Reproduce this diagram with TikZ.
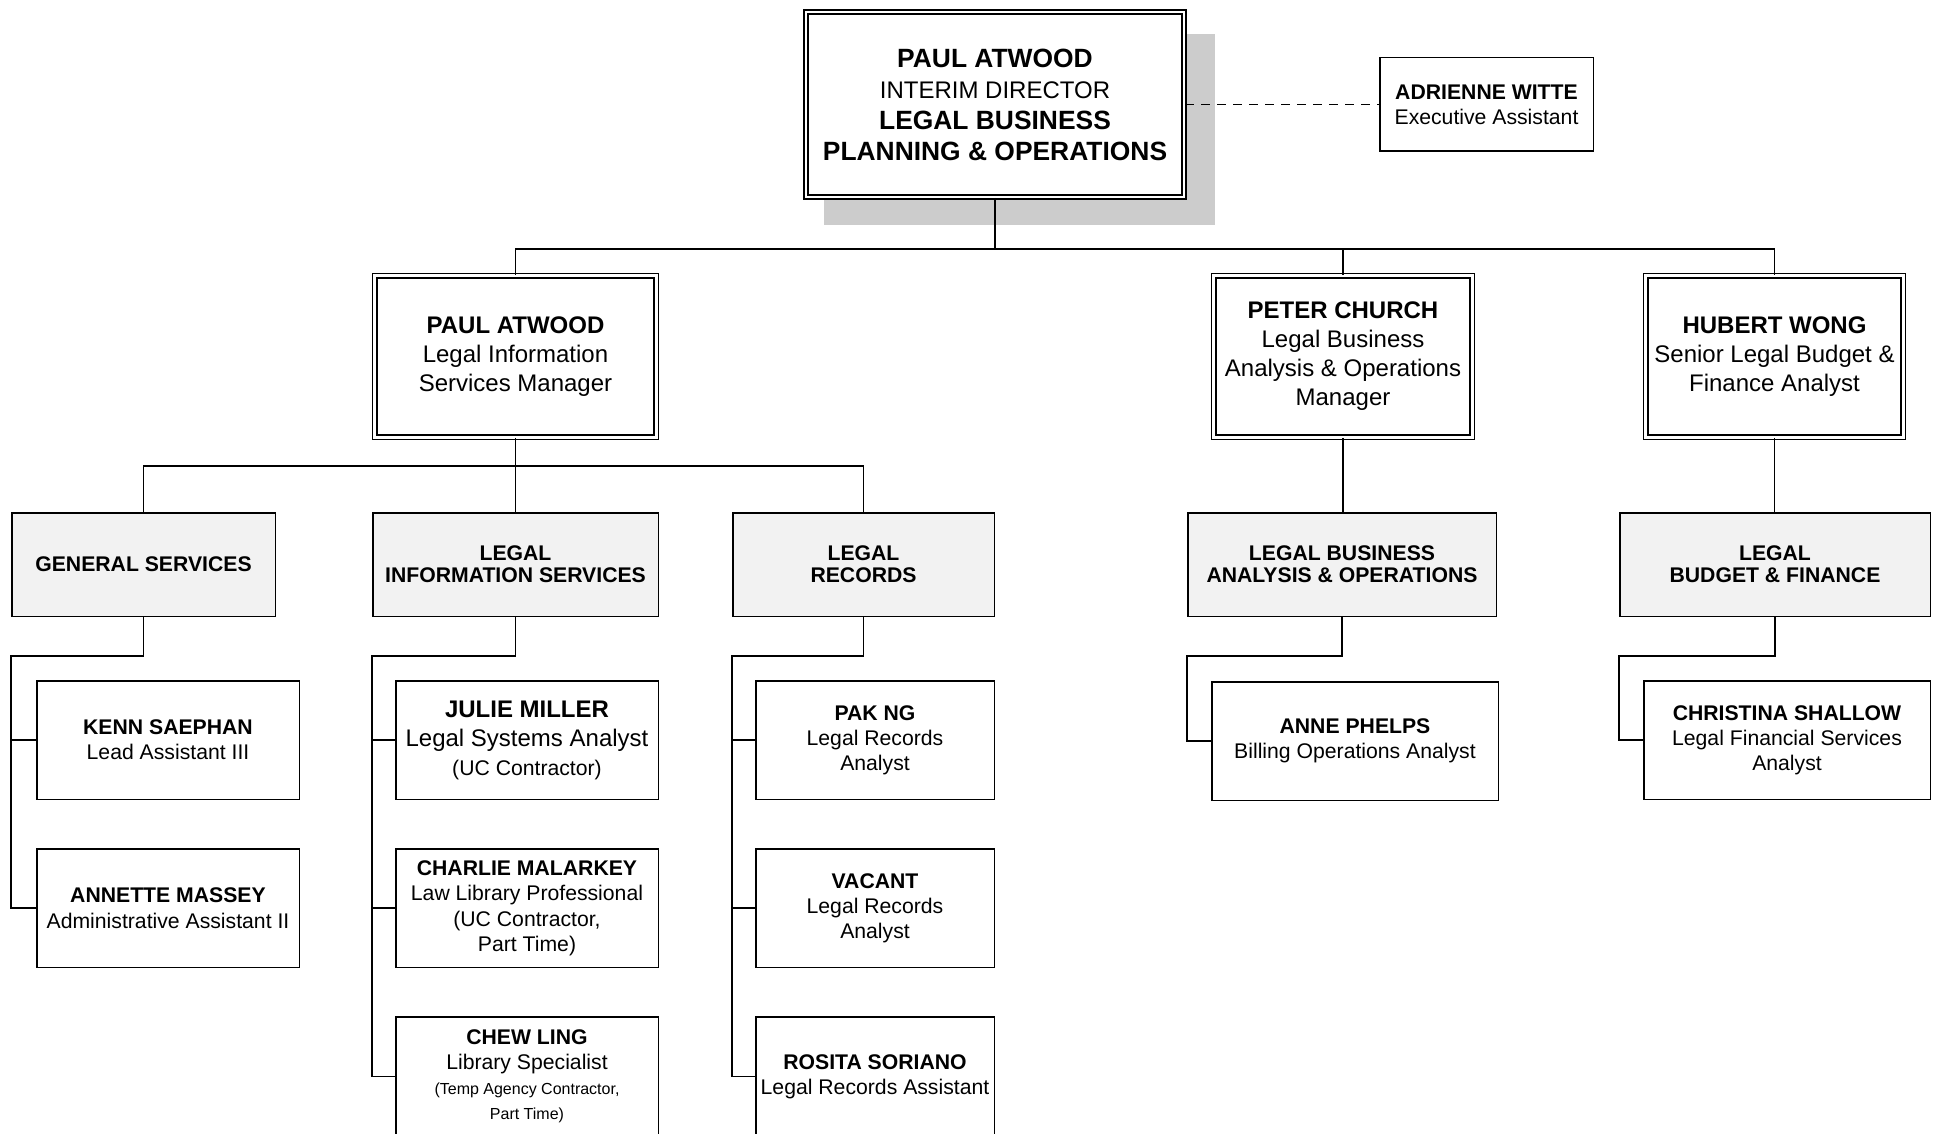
\documentclass[tikz,border=0pt]{standalone}
\usepackage{fontspec}
\setmainfont{Liberation Sans}
\usetikzlibrary{positioning,shadows}

\tikzset{
	boss/.style={rectangle,draw,fill=white,line width=1.2pt,double,double distance=0.8pt,align=center,inner sep=2pt,minimum width=188.8pt,minimum height=92.3pt,font=\fontsize{12}{15.5}\selectfont,drop shadow={shadow xshift=12pt,shadow yshift=-12pt,shadow scale=1.035,fill=black!20,opacity=1}},
	mgr/.style={rectangle,draw,line width=0.75pt,double,double distance=1.5pt,align=center,inner sep=2pt,minimum height=80.6pt,font=\fontsize{12}{14.5}\selectfont},
	unit/.style={rectangle,draw,line width=0.8pt,fill=black!5,align=center,inner sep=2pt,minimum height=51.8pt,font=\fontsize{10.6}{10.8}\selectfont\bfseries},
	staff/.style={rectangle,draw,line width=0.8pt,align=center,inner sep=2pt,minimum height=59.3pt,font=\fontsize{10.6}{12.6}\selectfont},
	link/.style={line width=0.75pt}
}

\begin{document}
\begin{tikzpicture}[x=0.5pt,y=-0.5pt]
	\useasboundingbox (0,0) rectangle (1938,1134);

	% director and assistant
	\node[boss] (dir) at (995,104.5) {{\fontsize{13.2}{15.5}\selectfont\bfseries PAUL ATWOOD}\\INTERIM DIRECTOR\\{\fontsize{13.2}{15.5}\selectfont\bfseries LEGAL BUSINESS}\\{\fontsize{13.2}{15.5}\selectfont\bfseries PLANNING \& OPERATIONS}};
	\node[staff,minimum width=106.8pt,minimum height=46.8pt] (exec) at (1486.5,104.5) {\textbf{ADRIENNE WITTE}\\Executive Assistant};

	% managers
	\node[mgr,minimum width=140.6pt] (lismgr) at (515.5,356.5) {\textbf{PAUL ATWOOD}\\Legal Information\\Services Manager};
	\node[mgr,minimum width=129.1pt] (peter) at (1343,356.5) {\textbf{PETER CHURCH}\\Legal Business\\Analysis \& Operations\\Manager};
	\node[mgr,minimum width=128.6pt] (hubert) at (1774.5,356.5) {\textbf{HUBERT WONG}\\Senior Legal Budget \&\\Finance Analyst};

	% units
	\node[unit,minimum width=131.8pt] (gen) at (143.5,564.5) {GENERAL SERVICES};
	\node[unit,minimum width=142.8pt] (lisdept) at (515.5,564.5) {LEGAL\\INFORMATION SERVICES};
	\node[unit,minimum width=130.8pt] (recs) at (863.5,564.5) {LEGAL\\RECORDS};
	\node[unit,minimum width=154.3pt] (lbao) at (1342,564.5) {LEGAL BUSINESS\\ANALYSIS \& OPERATIONS};
	\node[unit,minimum width=155.3pt] (lbf) at (1775,564.5) {LEGAL\\BUDGET \& FINANCE};

	% staff
	\node[staff,minimum width=131.3pt] (kenn) at (168,740) {\textbf{KENN SAEPHAN}\\Lead Assistant III};
	\node[staff,minimum width=131.3pt,below=24pt of kenn] (annette) {\textbf{ANNETTE MASSEY}\\Administrative Assistant II};

	\node[staff,minimum width=131.3pt,font=\fontsize{12}{14.5}\selectfont] (julie) at (527,740) {\textbf{JULIE MILLER}\\Legal Systems Analyst\\{\fontsize{10.6}{14.5}\selectfont(UC Contractor)}};
	\node[staff,minimum width=131.3pt,below=24pt of julie] (charlie) {\textbf{CHARLIE MALARKEY}\\Law Library Professional\\(UC Contractor,\\Part Time)};
	\node[staff,minimum width=131.3pt,below=24pt of charlie] (chew) {\textbf{CHEW LING}\\Library Specialist\\{\fontsize{8}{11.7}\selectfont(Temp Agency Contractor,}\\{\fontsize{8}{11.7}\selectfont Part Time)}};

	\node[staff,minimum width=119.3pt] (pak) at (875,740) {\textbf{PAK NG}\\Legal Records\\Analyst};
	\node[staff,minimum width=119.3pt,below=24pt of pak] (vacant) {\textbf{VACANT}\\Legal Records\\Analyst};
	\node[staff,minimum width=119.3pt,below=24pt of vacant] (rosita) {\textbf{ROSITA SORIANO}\\Legal Records Assistant};

	\node[staff,minimum width=143.3pt] (anne) at (1355,741) {\textbf{ANNE PHELPS}\\Billing Operations Analyst};
	\node[staff,minimum width=143.3pt] (christina) at (1787,740) {\textbf{CHRISTINA SHALLOW}\\Legal Financial Services\\Analyst};

	% connectors
	\draw[link,dash pattern=on 4.5pt off 3.5pt] (dir.east) -- (exec.west);
	\draw[link] (dir.south) -- ++(0,51) coordinate (bus);
	\draw[link] (lismgr.north) |- (bus) -| (hubert.north);
	\draw[link] (peter.north) -- (peter.north |- bus);

	\draw[link] (lismgr.south) -- ++(0,28) coordinate (bus2);
	\draw[link] (gen.north) |- (bus2) -| (recs.north);
	\draw[link] (bus2) -- (lisdept.north);
	\draw[link] (peter.south) -- (peter.south |- lbao.north);
	\draw[link] (hubert.south) -- (hubert.south |- lbf.north);

	\draw[link] (gen.south) -- ++(0,39) -| (gen.west |- annette) -- (annette.west);
	\draw[link] (gen.west |- kenn) -- (kenn.west);
	\draw[link] (lisdept.south) -- ++(0,39) -| (lisdept.west |- chew) -- (chew.west);
	\draw[link] (lisdept.west |- julie) -- (julie.west);
	\draw[link] (lisdept.west |- charlie) -- (charlie.west);
	\draw[link] (recs.south) -- ++(0,39) -| (recs.west |- rosita) -- (rosita.west);
	\draw[link] (recs.west |- pak) -- (pak.west);
	\draw[link] (recs.west |- vacant) -- (vacant.west);
	\draw[link] (lbao.south) -- ++(0,39) -| (lbao.west |- anne) -- (anne.west);
	\draw[link] (lbf.south) -- ++(0,39) -| (lbf.west |- christina) -- (christina.west);
\end{tikzpicture}
\end{document}
